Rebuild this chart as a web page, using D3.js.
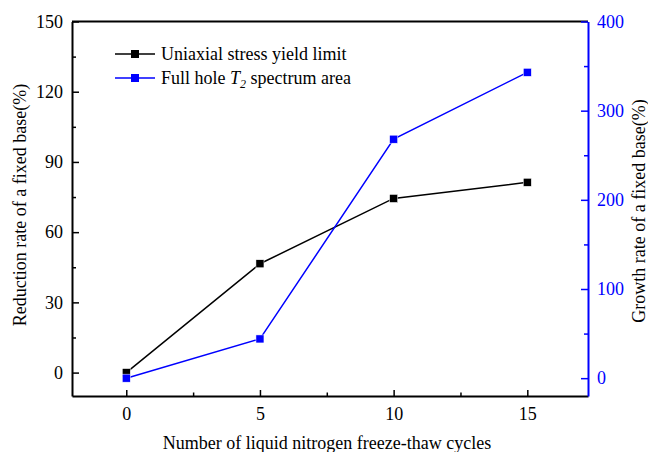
<!DOCTYPE html>
<html><head><meta charset="utf-8">
<script src="https://cdn.jsdelivr.net/npm/d3@7"></script>
<style>body{margin:0;background:#fff}svg{display:block}</style>
</head><body><svg id="c" width="648" height="452"></svg>
<script>
const cycles = [0, 5, 10, 15];
const stressReduction = [0, 46.5, 74.4, 81.3];
const t2Growth = [0, 44, 268, 343];
const leftTicks = [0, 30, 60, 90, 120, 150];
const rightTicks = [0, 100, 200, 300, 400];
const xTicks = [0, 5, 10, 15];
const seriesNames = ["Uniaxial stress yield limit", "Full hole T2 spectrum area"];

const FONT = "'Liberation Serif', 'Times New Roman', serif";
const FS = "18px";
const svg = d3.select("#c");
const L = 72, R = 588, T = 21.5, B = 396;
const x = d3.scaleLinear().domain([-2.03, 17.27]).range([L, R]);
const yL = d3.scaleLinear().domain([-10, 150]).range([B, T]);
const yR = d3.scaleLinear().domain([-20, 400]).range([B, T]);
const blue = "#0000ff";

function txt(sel) { return sel.style("font-family", FONT).style("font-size", FS); }

svg.append("line").attr("x1", L).attr("x2", R).attr("y1", T).attr("y2", T).attr("stroke", "#000").attr("stroke-width", 2);

function styleAxis(g, color) {
  txt(g.selectAll("text")).attr("fill", color);
}

const gx = svg.append("g").attr("transform", `translate(0,${B})`)
  .call(d3.axisBottom(x).tickValues(xTicks).tickSizeInner(-6).tickSizeOuter(0).tickPadding(11).tickFormat(d3.format("d")));
gx.select(".domain").attr("stroke-width", 2);
gx.selectAll(".tick line").attr("stroke-width", 1.5);
styleAxis(gx, "#000");
const gxm = svg.append("g").attr("transform", `translate(0,${B})`)
  .call(d3.axisBottom(x).tickValues([2.5, 7.5, 12.5]).tickSizeInner(-3.5).tickSizeOuter(0).tickFormat(""));
gxm.select(".domain").remove();
gxm.selectAll(".tick line").attr("stroke-width", 1.5);

const gl = svg.append("g").attr("transform", `translate(${L},0)`)
  .call(d3.axisLeft(yL).tickValues(leftTicks).tickSizeInner(-7).tickSizeOuter(0).tickPadding(9).tickFormat(d3.format("d")));
gl.select(".domain").attr("stroke-width", 2);
gl.selectAll(".tick line").attr("stroke-width", 1.5);
styleAxis(gl, "#000");
const glm = svg.append("g").attr("transform", `translate(${L},0)`)
  .call(d3.axisLeft(yL).tickValues([15, 45, 75, 105, 135]).tickSizeInner(-4).tickSizeOuter(0).tickFormat(""));
glm.select(".domain").remove();
glm.selectAll(".tick line").attr("stroke-width", 1.5);

const gr = svg.append("g").attr("transform", `translate(${R},0)`)
  .call(d3.axisRight(yR).tickValues(rightTicks).tickSizeInner(-7).tickSizeOuter(0).tickPadding(9).tickFormat(d3.format("d")));
gr.select(".domain").attr("stroke", blue).attr("stroke-width", 2);
gr.selectAll(".tick line").attr("stroke", blue).attr("stroke-width", 1.5);
styleAxis(gr, blue);
const grm = svg.append("g").attr("transform", `translate(${R},0)`)
  .call(d3.axisRight(yR).tickValues([50, 150, 250, 350]).tickSizeInner(-4).tickSizeOuter(0).tickFormat(""));
grm.select(".domain").remove();
grm.selectAll(".tick line").attr("stroke", blue).attr("stroke-width", 1.5);

function series(vals, ys, color) {
  const pts = cycles.map((c, i) => [x(c), ys(vals[i])]);
  svg.append("path").attr("d", d3.line()(pts)).attr("fill", "none").attr("stroke", color).attr("stroke-width", 1.5);
  svg.selectAll(null).data(pts).enter().append("rect")
    .attr("x", d => d[0] - 4).attr("y", d => d[1] - 4).attr("width", 8).attr("height", 8)
    .attr("fill", color).attr("stroke", "#fff").attr("stroke-width", 0.5);
}
series(stressReduction, yL, "#000");
series(t2Growth, yR, blue);

const leg = [{c: "#000", y: 54}, {c: blue, y: 78}];
leg.forEach(l => {
  svg.append("line").attr("x1", 115).attr("x2", 155).attr("y1", l.y).attr("y2", l.y).attr("stroke", l.c).attr("stroke-width", 1.5);
  svg.append("rect").attr("x", 131).attr("y", l.y - 4).attr("width", 8).attr("height", 8).attr("fill", l.c);
});
txt(svg.append("text")).attr("x", 161).attr("y", 54).attr("dy", "0.33em").text(seriesNames[0]);
const t2 = txt(svg.append("text")).attr("x", 161).attr("y", 78).attr("dy", "0.33em");
t2.append("tspan").text("Full hole ");
t2.append("tspan").style("font-style", "italic").text("T");
t2.append("tspan").style("font-style", "italic").style("font-size", "12px").attr("dy", 4).text("2");
t2.append("tspan").attr("dy", -4).text(" spectrum area");

txt(svg.append("text")).attr("x", 327).attr("y", 449).attr("text-anchor", "middle").text("Number of liquid nitrogen freeze-thaw cycles");
txt(svg.append("text")).attr("transform", "translate(26,205) rotate(-90)").attr("text-anchor", "middle").text("Reduction rate of a fixed base(%)");
txt(svg.append("text")).attr("transform", "translate(645,211) rotate(-90)").attr("text-anchor", "middle").text("Growth rate of a fixed base(%)");
</script></body></html>
